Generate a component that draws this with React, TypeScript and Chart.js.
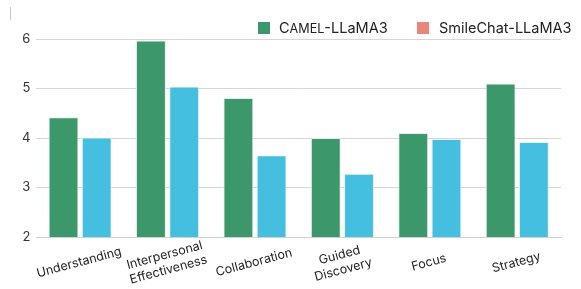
import React, { useEffect, useRef } from "react";
import { Chart, registerables } from "chart.js";

Chart.register(...registerables);

const categories: string[][] = [
  ["Understanding"],
  ["Interpersonal", "Effectiveness"],
  ["Collaboration"],
  ["Guided", "Discovery"],
  ["Focus"],
  ["Strategy"],
];
const camelValues = [4.42, 5.97, 4.81, 4.0, 4.1, 5.1];
const smileValues = [4.01, 5.04, 3.65, 3.28, 3.98, 3.92];
const seriesNames = ["CAMEL-LLaMA3", "SmileChat-LLaMA3"];
const seriesColors = ["#3C976B", "#45BFE0"];
const legendColors = ["#3C976B", "#E8877A"];

const xLabelPlugin = {
  id: "xLabels",
  afterDraw(chart: any) {
    const ctx = chart.ctx;
    const xs = chart.scales.x;
    const bottom = chart.chartArea.bottom;
    ctx.save();
    ctx.font = "12.5px Inter";
    ctx.fillStyle = "#222";
    ctx.textAlign = "center";
    ctx.textBaseline = "middle";
    categories.forEach((lines, i) => {
      const x = xs.getPixelForValue(i);
      ctx.save();
      ctx.translate(x - 1, bottom + 25.5);
      ctx.rotate((-15 * Math.PI) / 180);
      const lh = 15;
      lines.forEach((t, j) => {
        ctx.fillText(t, 0, (j - (lines.length - 1) / 2) * lh);
      });
      ctx.restore();
    });
    ctx.restore();
  },
};

export default function App() {
  const ref = useRef<HTMLCanvasElement>(null);
  useEffect(() => {
    if (!ref.current) return;
    const chart = new Chart(ref.current, {
      type: "bar",
      data: {
        labels: categories.map((c) => c.join(" ")),
        datasets: seriesNames.map((name, k) => ({
          label: name,
          data: k === 0 ? camelValues : smileValues,
          backgroundColor: seriesColors[k],
          borderColor: k === 0 ? "#e3efe8" : "#e3f4fa",
          borderWidth: 1,
          barPercentage: 0.9,
          categoryPercentage: 0.76,
        })),
      },
      options: {
        animation: false,
        responsive: false,
        maintainAspectRatio: false,
        layout: { padding: { top: 39, right: 20, left: 16, bottom: 44 } },
        plugins: {
          tooltip: { enabled: false },
          legend: { display: false },
        },
        scales: {
          x: {
            grid: { display: false },
            border: { display: true, color: "#d3cfcf" },
            ticks: { display: false },
          },
          y: {
            min: 2,
            max: 6,
            border: { display: false },
            grid: { color: "#d9d5d5", drawTicks: false },
            ticks: {
              stepSize: 1,
              color: "#333",
              padding: 6,
              font: { family: "Inter", size: 13 },
            },
          },
        },
      },
      plugins: [xLabelPlugin],
    });
    return () => chart.destroy();
  }, []);
  const legendText: React.CSSProperties = {
    position: "absolute",
    top: 19,
    fontFamily: "Inter",
    fontSize: 14.5,
    lineHeight: "18px",
    color: "#222",
    whiteSpace: "nowrap",
  };
  return (
    <div style={{ position: "absolute", left: 0, top: 0, width: 581, height: 289, background: "#fff" }}>
      <canvas ref={ref} width={581} height={289} style={{ position: "absolute", left: 0, top: 0 }} />
      <div style={{ position: "absolute", left: 10, top: 7, width: 1, height: 13, background: "#c8c8c8" }} />
      <div style={{ position: "absolute", left: 258, top: 22, width: 12, height: 12, background: legendColors[0] }} />
      <div style={{ ...legendText, left: 279 }}>
        C<span style={{ fontSize: 12.6 }}>AMEL</span>-LLaMA3
      </div>
      <div style={{ position: "absolute", left: 417, top: 22, width: 12, height: 12, background: legendColors[1] }} />
      <div style={{ ...legendText, left: 439 }}>{seriesNames[1]}</div>
    </div>
  );
}
